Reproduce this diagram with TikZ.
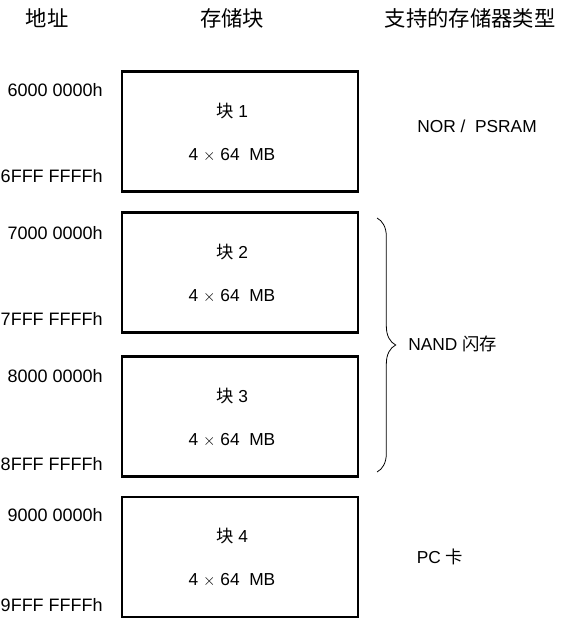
\documentclass[tikz,border=0pt]{standalone}
\usepackage{fontspec}
\setmainfont{Liberation Sans}
\newfontfamily\cjk{Noto Sans CJK SC}
\usetikzlibrary{positioning,decorations.pathreplacing}

\begin{document}
\begin{tikzpicture}[x=0.75pt, y=-0.75pt,
  block/.style={draw, line width=2.2pt, minimum width=177pt, minimum height=90pt},
  blktext/.style={align=center, inner sep=0pt, font=\fontsize{13}{15}\selectfont},
  addr/.style={anchor=east, inner sep=0pt, font=\fontsize{13.5}{15}\selectfont},
  head/.style={inner sep=0pt, font=\fontsize{16}{18}\selectfont\cjk},
  kind/.style={inner sep=0pt, font=\fontsize{13}{15}\selectfont}]
  \useasboundingbox (0,0) rectangle (567,624);

  % column headers
  \node[head] (haddr) at (47,18) {地址};
  \node[head] (hblk) at (232,18) {存储块};
  \node[head] (htype) at (470,18) {支持的存储器类型};

  % memory blocks
  \node[block] (blk1) at (240,131.5) {};
  \node[block] (blk2) at (240,272.5) {};
  \node[block] (blk3) at (240,416.5) {};
  \node[block] (blk4) at (240,557) {};
  \node[blktext] (t1) at ([xshift=-6pt,yshift=-0.6pt]blk1.center) {{\cjk 块} 1\\[17pt]4 $\times$ 64\ \ MB};
  \node[blktext] (t2) at ([xshift=-6pt,yshift=-0.6pt]blk2.center) {{\cjk 块} 2\\[17pt]4 $\times$ 64\ \ MB};
  \node[blktext] (t3) at ([xshift=-6pt,yshift=-0.6pt]blk3.center) {{\cjk 块} 3\\[17pt]4 $\times$ 64\ \ MB};
  \node[blktext] (t4) at ([xshift=-6pt,yshift=-0.6pt]blk4.center) {{\cjk 块} 4\\[17pt]4 $\times$ 64\ \ MB};

  % addresses
  \node[addr] (a6s) at (103,90) {6000 0000h};
  \node[addr] (a6e) at (103,176) {6FFF FFFFh};
  \node[addr] (a7s) at (103,233) {7000 0000h};
  \node[addr] (a7e) at (103,319) {7FFF FFFFh};
  \node[addr] (a8s) at (103,376) {8000 0000h};
  \node[addr] (a8e) at (103,464) {8FFF FFFFh};
  \node[addr] (a9s) at (103,515) {9000 0000h};
  \node[addr] (a9e) at (103,605) {9FFF FFFFh};

  % supported memory types
  \node[kind] (nor) at (477,126) {NOR /\ \ PSRAM};
  \node[kind, anchor=west] (nand) at (408,344) {NAND {\cjk 闪存}};
  \node[kind] (pc) at (440,557) {PC {\cjk 卡}};

  \coordinate (bt) at (377,218);
  \coordinate (bb) at (377,472);
  \draw[decorate, decoration={brace, amplitude=14pt}, line width=0.6pt] (bt) -- (bb);
\end{tikzpicture}
\end{document}
